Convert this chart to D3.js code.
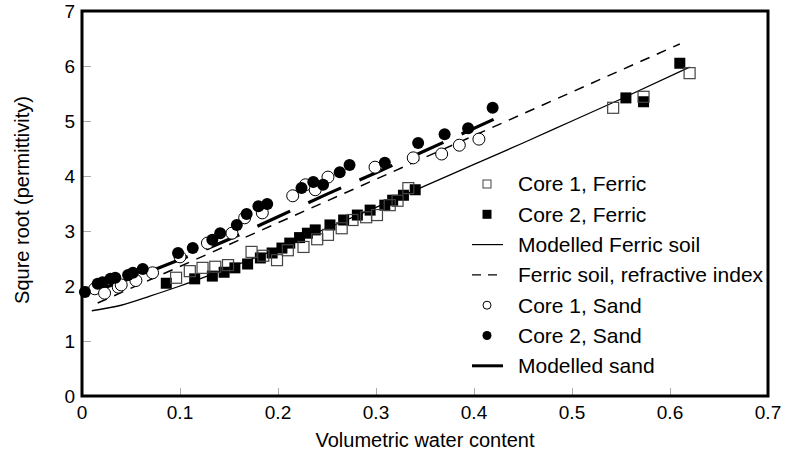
<!DOCTYPE html>
<html>
<head>
<meta charset="utf-8">
<script src="https://cdn.jsdelivr.net/npm/d3@7"></script>
<style>
  body { margin: 0; background: #fff; }
  text { font-family: "Liberation Sans", Arial, Helvetica, sans-serif; fill: #000; }
</style>
</head>
<body>
<svg id="chart"></svg>
<script>
// values: [volumetric water content, sqrt(permittivity)]
const core1Ferric = [[0.096,2.15],[0.110,2.27],[0.123,2.33],[0.136,2.35],[0.149,2.38],[0.173,2.62],[0.185,2.55],
  [0.199,2.47],[0.210,2.65],[0.226,2.71],[0.240,2.85],[0.251,2.93],[0.265,3.05],[0.276,3.20],[0.290,3.25],
  [0.301,3.29],[0.314,3.47],[0.322,3.55],[0.333,3.78],[0.542,5.24],[0.573,5.44],[0.620,5.87]];
const core2Ferric = [[0.086,2.05],[0.115,2.13],[0.133,2.18],[0.145,2.25],[0.156,2.33],[0.169,2.40],[0.182,2.51],
  [0.194,2.60],[0.204,2.69],[0.212,2.78],[0.222,2.88],[0.230,2.96],[0.238,3.02],[0.253,3.11],[0.267,3.20],
  [0.281,3.29],[0.294,3.38],[0.309,3.47],[0.317,3.56],[0.328,3.65],[0.340,3.75],[0.555,5.42],[0.573,5.35],[0.610,6.05]];
const core1Sand = [[0.013,1.95],[0.023,1.87],[0.037,1.98],[0.040,2.02],[0.055,2.10],[0.072,2.24],[0.100,2.53],
  [0.128,2.78],[0.153,2.96],[0.166,3.24],[0.184,3.33],[0.215,3.64],[0.228,3.84],[0.238,3.75],[0.251,3.98],
  [0.299,4.16],[0.338,4.33],[0.367,4.40],[0.385,4.56],[0.405,4.67]];
const core2Sand = [[0.003,1.89],[0.016,2.04],[0.021,2.07],[0.029,2.13],[0.034,2.15],[0.047,2.20],[0.052,2.24],
  [0.062,2.31],[0.098,2.60],[0.113,2.69],[0.133,2.84],[0.141,2.96],[0.158,3.11],[0.168,3.31],[0.180,3.45],
  [0.189,3.49],[0.224,3.78],[0.236,3.89],[0.246,3.84],[0.263,4.07],[0.273,4.20],[0.309,4.24],[0.343,4.60],
  [0.370,4.76],[0.394,4.87],[0.419,5.24]];
const ferricModel = [[0.01,1.55],[0.04,1.65],[0.07,1.82],[0.1,2.0],[0.15,2.33],[0.2,2.68],[0.25,3.05],
  [0.3,3.43],[0.35,3.82],[0.4,4.21],[0.45,4.6],[0.5,5.0],[0.55,5.4],[0.62,5.98]];
const ferricRefractive = [[0.016,1.69],[0.61,6.4]];
const sandModel = [[0.02,1.95],[0.05,2.14],[0.1,2.48],[0.15,2.85],[0.2,3.26],[0.25,3.67],[0.3,4.06],
  [0.35,4.46],[0.42,5.03]];

const xTicks = [0, 0.1, 0.2, 0.3, 0.4, 0.5, 0.6, 0.7];
const yTicks = [0, 1, 2, 3, 4, 5, 6, 7];
const legendLabels = ["Core 1, Ferric", "Core 2, Ferric", "Modelled Ferric soil",
  "Ferric soil, refractive index", "Core 1, Sand", "Core 2, Sand", "Modelled sand"];

const W = 788, H = 458;
const margin = {top: 11, right: 20, bottom: 62, left: 82};
const width = W - margin.left - margin.right,
      height = H - margin.top - margin.bottom;

const svg = d3.select("#chart")
  .attr("width", W)
  .attr("height", H)
  .append("g")
  .attr("transform", "translate(" + margin.left + "," + margin.top + ")");

const x = d3.scaleLinear().domain([0, 0.7]).range([0, width]);
const y = d3.scaleLinear().domain([0, 7]).range([height, 0]);

// inward grey ticks
svg.append("g")
  .attr("transform", "translate(0," + height + ")")
  .call(d3.axisBottom(x).tickValues(xTicks).tickSize(-8).tickFormat(""))
  .call(g => g.select(".domain").remove())
  .call(g => g.selectAll("line").attr("stroke", "#aaa"));
svg.append("g")
  .call(d3.axisLeft(y).tickValues(yTicks).tickSize(-9).tickFormat(""))
  .call(g => g.select(".domain").remove())
  .call(g => g.selectAll("line").attr("stroke", "#aaa"));

// tick labels
svg.selectAll(".xlab")
  .data(xTicks)
  .join("text")
    .attr("class", "xlab")
    .attr("x", d => x(d))
    .attr("y", height + 23)
    .attr("text-anchor", "middle")
    .style("font-size", "19px")
    .text(d => d3.format("")(d));
svg.selectAll(".ylab")
  .data(yTicks)
  .join("text")
    .attr("class", "ylab")
    .attr("x", -7)
    .attr("y", d => y(d))
    .attr("dy", "0.35em")
    .attr("text-anchor", "end")
    .style("font-size", "19px")
    .text(d => d);

// axis titles
svg.append("text")
  .attr("x", 343)
  .attr("y", height + 51)
  .attr("text-anchor", "middle")
  .style("font-size", "20px")
  .text("Volumetric water content");
svg.append("text")
  .attr("transform", "translate(-53," + 189 + ") rotate(-90)")
  .attr("text-anchor", "middle")
  .style("font-size", "20px")
  .text("Squre root (permittivity)");

const line = d3.line()
  .x(d => x(d[0]))
  .y(d => y(d[1]))
  .curve(d3.curveMonotoneX);

svg.append("path")
  .datum(ferricModel)
  .attr("fill", "none")
  .attr("stroke", "#000")
  .attr("stroke-width", 1.3)
  .attr("d", line);
svg.append("path")
  .datum(ferricRefractive)
  .attr("fill", "none")
  .attr("stroke", "#000")
  .attr("stroke-width", 1.5)
  .attr("stroke-dasharray", "10,8")
  .attr("d", line);
svg.append("path")
  .datum(sandModel)
  .attr("fill", "none")
  .attr("stroke", "#000")
  .attr("stroke-width", 3.2)
  .attr("stroke-dasharray", "36,20")
  .attr("d", line);

// markers
const sq = 11, r = 6;
svg.selectAll(".f2")
  .data(core2Ferric)
  .join("rect")
    .attr("x", d => x(d[0]) - sq / 2)
    .attr("y", d => y(d[1]) - sq / 2)
    .attr("width", sq)
    .attr("height", sq)
    .attr("fill", "#000");
svg.selectAll(".f1")
  .data(core1Ferric)
  .join("rect")
    .attr("x", d => x(d[0]) - sq / 2)
    .attr("y", d => y(d[1]) - sq / 2)
    .attr("width", sq)
    .attr("height", sq)
    .attr("fill", "none")
    .attr("stroke", "#444")
    .attr("stroke-width", 1.2);
svg.selectAll(".s1")
  .data(core1Sand)
  .join("circle")
    .attr("cx", d => x(d[0]))
    .attr("cy", d => y(d[1]))
    .attr("r", r)
    .attr("fill", "#fff")
    .attr("stroke", "#000")
    .attr("stroke-width", 1);
svg.selectAll(".s2")
  .data(core2Sand)
  .join("circle")
    .attr("cx", d => x(d[0]))
    .attr("cy", d => y(d[1]))
    .attr("r", r)
    .attr("fill", "#000");

// frame
svg.append("rect")
  .attr("width", width)
  .attr("height", height)
  .attr("fill", "none")
  .attr("stroke", "#000")
  .attr("stroke-width", 3);

// legend
const lg = svg.append("g").attr("transform", "translate(405,173)");
const rowH = 30.3;
legendLabels.forEach((label, i) => {
  const row = lg.append("g").attr("transform", "translate(0," + i * rowH + ")");
  if (i === 0) row.append("rect").attr("x", -4).attr("y", -4).attr("width", 8).attr("height", 8)
    .attr("fill", "#fff").attr("stroke", "#444");
  if (i === 1) row.append("rect").attr("x", -4.5).attr("y", -4.5).attr("width", 9).attr("height", 9).attr("fill", "#000");
  if (i === 2) row.append("line").attr("x1", -15).attr("x2", 16).attr("stroke", "#000").attr("stroke-width", 1.2);
  if (i === 3) row.append("line").attr("x1", -15).attr("x2", 16).attr("stroke", "#000").attr("stroke-width", 1.3)
    .attr("stroke-dasharray", "9,7");
  if (i === 4) row.append("circle").attr("r", 4).attr("fill", "#fff").attr("stroke", "#000");
  if (i === 5) row.append("circle").attr("r", 4.5).attr("fill", "#000");
  if (i === 6) row.append("line").attr("x1", -15).attr("x2", 16).attr("stroke", "#000").attr("stroke-width", 3);
  row.append("text")
    .attr("x", 31)
    .attr("dy", "0.35em")
    .style("font-size", "21px")
    .text(label);
});
</script>
</body>
</html>
